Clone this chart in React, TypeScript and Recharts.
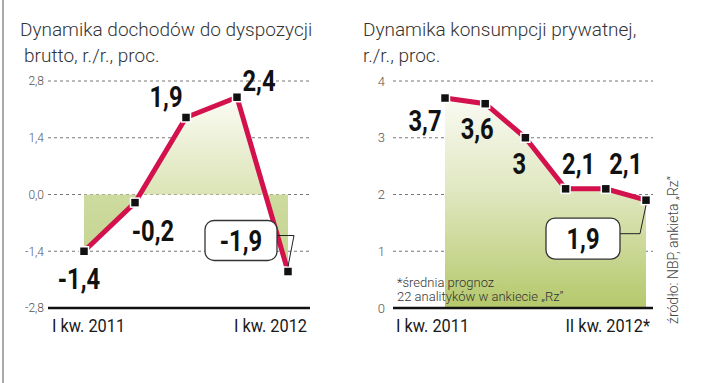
import { ComposedChart, Line, Area, XAxis, YAxis, CartesianGrid } from 'recharts';

const incomeQuarters = ['I kw. 2011', 'II kw. 2011', 'III kw. 2011', 'IV kw. 2011', 'I kw. 2012'];
const incomeValues = [-1.4, -0.2, 1.9, 2.4, -1.9];
const incomeTicks = [-2.8, -1.4, 0, 1.4, 2.8];

const consQuarters = ['I kw. 2011', 'II kw. 2011', 'III kw. 2011', 'IV kw. 2011', 'I kw. 2012', 'II kw. 2012*'];
const consValues = [3.7, 3.6, 3.0, 2.1, 2.1, 1.9];
const consTicks = [0, 1, 2, 3, 4];

const incomeData = incomeQuarters.map((q, i) => ({ q, v: incomeValues[i] }));
const consData = consQuarters.map((q, i) => ({ q, v: consValues[i] }));

// label placement relative to each point (the last one goes into a callout box)
const incomeLabelPos = [[-5, 28], [18, 28], [-20, -20], [22, -16]];
const consLabelPos = [[-20, 23], [-8, 25], [-6, 26], [13, -25], [20, -25]];

const RED = '#d3124d';
const FONT = 'Roboto, sans-serif';

const fmt = (v: number) => String(v).replace('.', ',');

// narrow text: the original uses a condensed face, so squeeze Roboto horizontally
const NarrowText = ({ x, y, anchor = 'middle', size, weight, fill = '#111', sx = 0.8, children }: any) => (
  <text
    transform={`translate(${x} ${y}) scale(${sx} 1)`}
    textAnchor={anchor}
    fontFamily={FONT}
    fontWeight={weight}
    fontSize={size}
    fill={fill}
  >
    {children}
  </text>
);

const SquareDot = ({ cx, cy }: any) => (
  <rect x={cx - 4.5} y={cy - 4.5} width={9} height={9} fill="#111" stroke="#fff" strokeWidth={1.5} />
);

const makeLabel = (pos: number[][], values: number[], box: { dx: number; dy: number; w: number; h: number; leadX: number }) =>
  ({ x, y, index }: any) => {
    const v = values[index];
    if (index === values.length - 1) {
      const bx = x + box.dx;
      const by = y + box.dy;
      const midY = by + box.h / 2 - 5;
      return (
        <g>
          <polyline
            points={`${bx + box.w},${midY} ${x + box.leadX},${midY} ${x},${y + (box.dy < 0 ? -5 : 5)}`}
            fill="none"
            stroke="#222"
            strokeWidth={1}
          />
          <rect x={bx} y={by} width={box.w} height={box.h} rx={9} fill="#fff" stroke="#333" strokeWidth={1.3} />
          <NarrowText x={bx + box.w / 2} y={by + box.h / 2 + 10} size={29} weight={700} sx={0.82}>
            {fmt(v)}
          </NarrowText>
        </g>
      );
    }
    const [dx, dy] = pos[index];
    return (
      <NarrowText x={x + dx} y={y + dy + 10} size={29} weight={700} sx={0.82}>
        {fmt(v)}
      </NarrowText>
    );
  };

const makeXTick = (count: number, firstDx: number, lastDx: number) => ({ x, y, payload, index }: any) => {
  if (index !== 0 && index !== count - 1) return <g />;
  const first = index === 0;
  return (
    <NarrowText
      x={x + (first ? firstDx : lastDx)}
      y={y + 24}
      anchor={first ? 'start' : 'end'}
      size={19}
      weight={400}
      fill="#1a1a1a"
      sx={0.86}
    >
      {payload.value}
    </NarrowText>
  );
};

const yTickStyle = { fill: '#555', fontSize: 12, fontFamily: FONT, fontWeight: 300 };

export default function App() {
  return (
    <div style={{ position: 'absolute', left: 0, top: 0, width: 720, height: 383, background: '#fff', overflow: 'hidden' }}>
      {/* Left: disposable income */}
      <div style={{ position: 'absolute', left: 0, top: 0 }}>
        <ComposedChart width={360} height={383} data={incomeData} margin={{ top: 81, right: 50, left: 0, bottom: 45 }}>
          <defs>
            <linearGradient id="fillIncome" x1="0" y1="0" x2="0" y2="1">
              <stop offset="0%" stopColor="#fbfbf4" />
              <stop offset="56%" stopColor="#dbe4b5" />
              <stop offset="56%" stopColor="#cddb9f" />
              <stop offset="100%" stopColor="#c3d38e" />
            </linearGradient>
          </defs>
          <CartesianGrid vertical={false} stroke="#777" strokeDasharray="3 3" />
          <XAxis
            dataKey="q"
            interval={0}
            height={30}
            tickSize={0}
            tickMargin={0}
            axisLine={{ stroke: '#111', strokeWidth: 2.5 }}
            tickLine={false}
            padding={{ left: 36, right: 22 }}
            tick={makeXTick(incomeQuarters.length, -32, 19)}
          />
          <YAxis
            width={48}
            domain={[-2.8, 2.8]}
            ticks={incomeTicks}
            axisLine={false}
            tickLine={false}
            tickSize={0}
            tickMargin={4}
            tickFormatter={(v: number) => v.toFixed(1).replace('.', ',')}
            tick={yTickStyle}
          />
          <Area
            dataKey="v"
            baseValue={0}
            type="linear"
            stroke="none"
            fill="url(#fillIncome)"
            fillOpacity={1}
            isAnimationActive={false}
          />
          <Line
            dataKey="v"
            type="linear"
            stroke={RED}
            strokeWidth={5}
            dot={<SquareDot />}
            activeDot={false}
            isAnimationActive={false}
            label={makeLabel(incomeLabelPos, incomeValues, { dx: -83, dy: -51, w: 72, h: 40, leadX: 6 })}
          />
        </ComposedChart>
      </div>

      {/* Right: private consumption */}
      <div style={{ position: 'absolute', left: 360, top: 0 }}>
        <ComposedChart width={360} height={383} data={consData} margin={{ top: 81, right: 67, left: 0, bottom: 45 }}>
          <defs>
            <linearGradient id="fillCons" x1="0" y1="0" x2="0" y2="1">
              <stop offset="0%" stopColor="#fafaf3" />
              <stop offset="45%" stopColor="#dfe7bf" />
              <stop offset="100%" stopColor="#b5c86b" />
            </linearGradient>
          </defs>
          <CartesianGrid vertical={false} stroke="#777" strokeDasharray="3 3" />
          <XAxis
            dataKey="q"
            interval={0}
            height={30}
            tickSize={0}
            tickMargin={0}
            axisLine={{ stroke: '#111', strokeWidth: 2.5 }}
            tickLine={false}
            padding={{ left: 52, right: 7 }}
            tick={makeXTick(consQuarters.length, -49, 4)}
          />
          <YAxis
            width={33}
            domain={[0, 4]}
            ticks={consTicks}
            axisLine={false}
            tickLine={false}
            tickSize={0}
            tickMargin={8}
            tick={{ ...yTickStyle, fontSize: 13 }}
          />
          <Area
            dataKey="v"
            baseValue={0}
            type="linear"
            stroke="none"
            fill="url(#fillCons)"
            fillOpacity={1}
            isAnimationActive={false}
          />
          <Line
            dataKey="v"
            type="linear"
            stroke={RED}
            strokeWidth={5}
            dot={<SquareDot />}
            activeDot={false}
            isAnimationActive={false}
            label={makeLabel(consLabelPos, consValues, { dx: -100, dy: 18, w: 74, h: 41, leadX: -6 })}
          />
        </ComposedChart>
      </div>

      {/* Titles, notes, source */}
      <svg width={720} height={383} style={{ position: 'absolute', left: 0, top: 0, pointerEvents: 'none' }}>
        <line x1={3} y1={0} x2={3} y2={383} stroke="#aaa" strokeWidth={2} />
        <g fontFamily={FONT} fontWeight={300} fill="#333" fontSize={19}>
          <text x={20} y={36}>Dynamika dochodów do dyspozycji</text>
          <text x={24} y={62}>brutto, r./r., proc.</text>
          <text x={363} y={36}>Dynamika konsumpcji prywatnej,</text>
          <text x={363} y={62}>r./r., proc.</text>
        </g>
        <g fontFamily={FONT} fontWeight={300} fill="#333" fontSize={13}>
          <text x={397} y={287}>*średnia prognoz</text>
          <text x={397} y={301}>22 analityków w ankiecie „Rz”</text>
        </g>
        <text
          transform="translate(678,250) rotate(-90)"
          textAnchor="middle"
          fontFamily={FONT}
          fontWeight={300}
          fontSize={14}
          fill="#444"
        >
          źródło: NBP, ankieta „Rz”
        </text>
      </svg>
    </div>
  );
}
